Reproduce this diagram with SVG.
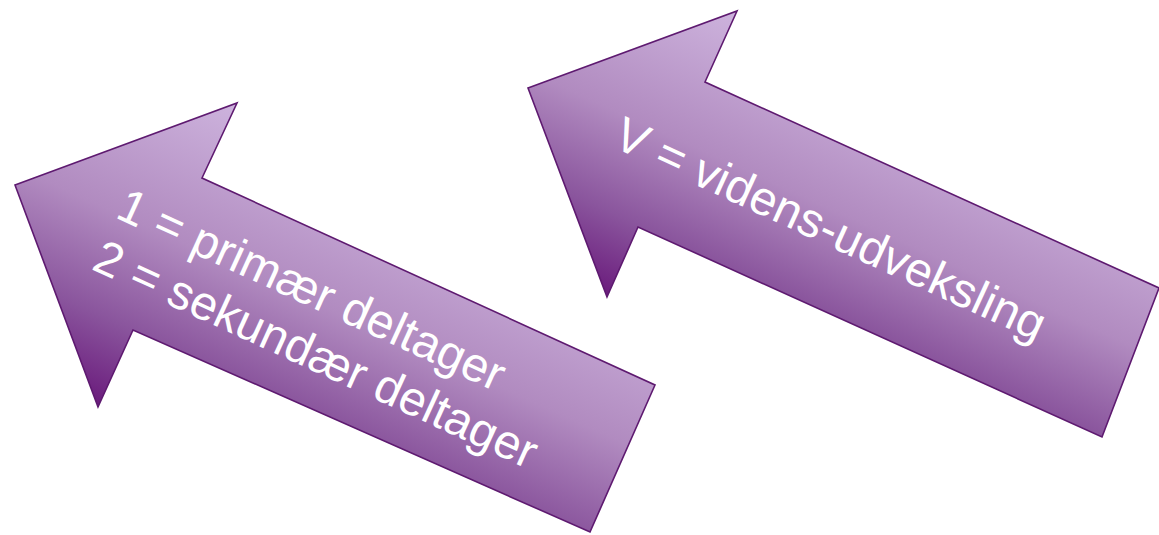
<svg xmlns="http://www.w3.org/2000/svg" width="1159" height="535" viewBox="0 0 1159 535">
  <style>
    .arrow { stroke: #5e1a70; stroke-width: 1.6; stroke-linejoin: miter; }
    .lbl { font-family: "Liberation Sans", Arial, sans-serif; font-size: 48px; fill: #ffffff; }
  </style>
  <defs>
    <linearGradient id="gL" gradientUnits="userSpaceOnUse" x1="237" y1="103" x2="99.5" y2="406.4">
      <stop offset="0" stop-color="#cdb3dd"/>
      <stop offset="0.45" stop-color="#b18bc0"/>
      <stop offset="0.75" stop-color="#8a559d"/>
      <stop offset="1" stop-color="#6a1b7c"/>
    </linearGradient>
    <linearGradient id="gR" gradientUnits="userSpaceOnUse" x1="737" y1="11" x2="607" y2="297">
      <stop offset="0" stop-color="#cdb3dd"/>
      <stop offset="0.45" stop-color="#b18bc0"/>
      <stop offset="0.75" stop-color="#8a559d"/>
      <stop offset="1" stop-color="#6a1b7c"/>
    </linearGradient>
  </defs>
  <rect width="1159" height="535" fill="#ffffff"/>
  <g id="arrow-deltager">
    <path class="arrow" fill="url(#gL)" d="M15,185 L237,103 L202,178 L655,385 L590,532 L133,330 L98,407 Z"/>
    <text class="lbl" transform="translate(114,217) rotate(24.6)">
      <tspan x="0" y="0">1 = primær deltager</tspan>
      <tspan x="0" y="57">2 = sekundær deltager</tspan>
    </text>
  </g>
  <g id="arrow-videns">
    <path class="arrow" fill="url(#gR)" d="M528,88 L737,11 L705,82 L1159,288 L1102,437 L638,227 L607,297 Z"/>
    <text class="lbl" transform="translate(611,146) rotate(24.7)">V = videns-udveksling</text>
  </g>
</svg>
